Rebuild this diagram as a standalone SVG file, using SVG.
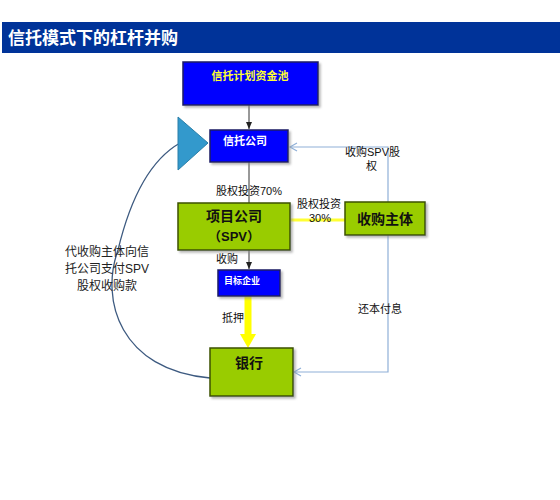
<svg xmlns="http://www.w3.org/2000/svg" width="560" height="500" viewBox="0 0 560 500">
<defs>
<style>
.t{font-family:"Liberation Sans","Noto Sans CJK SC",sans-serif;}
.blue{fill:#0000ff;stroke:#1a1a66;stroke-width:1.5;}
.green{fill:#99cc00;stroke:#3d5200;stroke-width:1.5;}
.lbl{font-size:11px;fill:#111;}
.lb{stroke:#8fb0d8;stroke-width:1.2;fill:none;}
</style>
<marker id="ab" markerWidth="8" markerHeight="8" refX="7" refY="4" orient="auto" markerUnits="userSpaceOnUse"><path d="M0,1 L7,4 L0,7 Z" fill="#222"/></marker>
<marker id="al" markerWidth="10" markerHeight="10" refX="8" refY="5" orient="auto" markerUnits="userSpaceOnUse"><path d="M1,1 L8,5 L1,9" fill="none" stroke="#8fb0d8" stroke-width="1.2"/></marker>
<filter id="sh" x="-10%" y="-10%" width="130%" height="140%"><feDropShadow dx="2" dy="2" stdDeviation="1" flood-color="#888" flood-opacity="0.6"/></filter>
</defs>
<rect width="560" height="500" fill="#ffffff"/>
<g id="title">
<rect x="2" y="22" width="558" height="31" fill="#003399"/>
<text class="t" x="8" y="44" font-size="17" font-weight="bold" fill="#ffffff">信托模式下的杠杆并购</text>
</g>
<g id="connectors">
<line x1="249" y1="105" x2="249" y2="129" stroke="#333" stroke-width="1" marker-end="url(#ab)"/>
<line x1="249" y1="162" x2="249" y2="203" stroke="#333" stroke-width="1"/>
<line x1="249" y1="250" x2="249" y2="269" stroke="#333" stroke-width="1" marker-end="url(#ab)"/>
<line x1="290" y1="220" x2="345" y2="220" stroke="#ffff33" stroke-width="3"/>
<path d="M248,296 V336" stroke="#ffff00" stroke-width="7" fill="none"/>
<path d="M240,334 L256,334 L248,348 Z" fill="#ffff00"/>
<path class="lb" d="M388,202 V147 H290" marker-end="url(#al)"/>
<path class="lb" d="M388,235 V372 H294" marker-end="url(#al)"/>
<path d="M210,378 C120,370 100,300 118,250 C130,200 150,160 180,143" fill="none" stroke="#3d5a80" stroke-width="1.3"/>
<text class="t lbl" x="216" y="195" font-size="12">股权投资70%</text>
<text class="t lbl" x="297" y="208">股权投资</text>
<text class="t lbl" x="309" y="222">30%</text>
<text class="t lbl" x="216" y="263" font-size="10">收购</text>
<text class="t lbl" x="222" y="322">抵押</text>
<text class="t lbl" x="345" y="156">收购SPV股</text>
<text class="t lbl" x="366" y="170">权</text>
<text class="t lbl" x="358" y="313">还本付息</text>
<text class="t" font-size="12" fill="#222" text-anchor="middle"><tspan x="107" y="256">代收购主体向信</tspan><tspan x="107" y="273">托公司支付SPV</tspan><tspan x="107" y="290">股权收购款</tspan></text>
</g>
<g id="pool">
<rect class="blue" x="183" y="62" width="135" height="43" filter="url(#sh)"/>
<text class="t" x="250" y="80" font-size="11" font-weight="bold" fill="#ffff33" text-anchor="middle">信托计划资金池</text>
</g>
<g id="triangle">
<path d="M178,117 L208,143 L178,170 Z" fill="#3399cc" stroke="#2a7fa8" stroke-width="1"/>
</g>
<g id="trust">
<rect class="blue" x="210" y="130" width="78" height="32" filter="url(#sh)"/>
<text class="t" x="245" y="145" font-size="11" font-weight="bold" fill="#ffffff" text-anchor="middle">信托公司</text>
</g>
<g id="spv">
<rect class="green" x="178" y="203" width="112" height="47" filter="url(#sh)"/>
<text class="t" x="234" y="221" font-size="14" font-weight="bold" fill="#111" text-anchor="middle">项目公司</text>
<text class="t" x="234" y="241" font-size="13" font-weight="bold" fill="#111" text-anchor="middle">（SPV）</text>
</g>
<g id="acquirer">
<rect class="green" x="345" y="202" width="80" height="33" filter="url(#sh)"/>
<text class="t" x="385" y="224" font-size="14" font-weight="bold" fill="#111" text-anchor="middle">收购主体</text>
</g>
<g id="target">
<rect class="blue" x="218" y="270" width="62" height="26" filter="url(#sh)"/>
<text class="t" x="242" y="284" font-size="9" font-weight="bold" fill="#ffffff" text-anchor="middle">目标企业</text>
</g>
<g id="bank">
<rect class="green" x="210" y="348" width="83" height="48" filter="url(#sh)"/>
<text class="t" x="249" y="368" font-size="14" font-weight="bold" fill="#111" text-anchor="middle">银行</text>
</g>
</svg>
